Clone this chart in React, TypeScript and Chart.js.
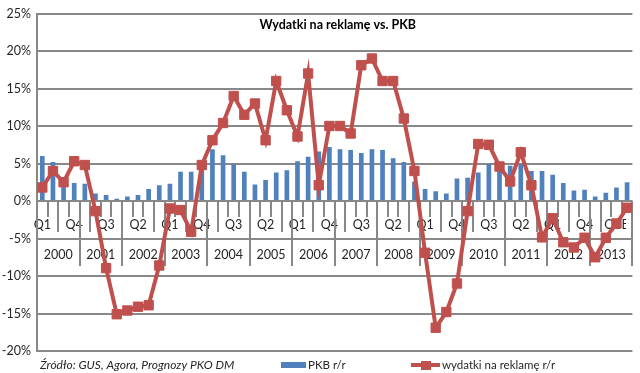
import React, { useEffect, useRef } from 'react';
import { Chart, registerables } from 'chart.js';

Chart.register(...registerables);

const years = ['2000', '2001', '2002', '2003', '2004', '2005', '2006', '2007', '2008', '2009', '2010', '2011', '2012', '2013'];
const quarterNames = ['Q1', 'Q2', 'Q3', 'Q4'];
const lastYearQuarterNames = ['Q1', 'Q2', 'Q3E', 'Q4E'];
const categories = years.flatMap((_, i) => (i === years.length - 1 ? lastYearQuarterNames : quarterNames));

const pkbRR = [
  6.0, 5.2, 3.2, 2.4,
  2.3, 1.0, 0.8, 0.3,
  0.6, 0.8, 1.6, 2.1,
  2.3, 3.9, 3.9, 4.7,
  6.9, 6.1, 4.9, 3.9,
  2.2, 2.8, 3.8, 4.1,
  5.3, 5.9, 6.6, 7.2,
  6.9, 6.8, 6.4, 6.9,
  6.8, 5.7, 5.2, 2.6,
  1.6, 1.3, 1.0, 3.0,
  3.1, 3.8, 4.9, 4.6,
  4.7, 4.9, 4.0, 4.0,
  3.5, 2.4, 1.4, 1.5,
  0.6, 1.1, 1.8, 2.5,
];

const adsRR = [
  1.8, 4.0, 2.5, 5.3,
  4.8, -1.35, -8.95, -15.1,
  -14.6, -14.1, -13.9, -8.6,
  -1.0, -1.2, -4.1, 4.8,
  8.1, 10.4, 14.0, 11.5,
  13.0, 8.1, 16.0, 12.1,
  8.6, 17.0, 2.1, 10.0,
  10.0, 9.0, 18.1, 19.0,
  16.0, 16.0, 11.0, 4.0,
  -6.9, -16.9, -14.8, -11.0,
  -1.35, 7.6, 7.5, 4.6,
  2.6, 6.5, 2.1, -4.85,
  -2.3, -5.5, -6.2, -4.9,
  -7.5, -4.9, -3.0, -0.9,
];

const yMin = -20;
const yMax = 25;
const yStep = 5;

const titleText = 'Wydatki na reklamę vs. PKB';
const sourceText = 'Źródło: GUS, Agora, Prognozy PKO DM';
const barLabel = 'PKB r/r';
const lineLabel = 'wydatki na reklamę r/r';

const BLUE = '#4F81BD';
const RED = '#C0504D';
const GRID = '#888888';
const TEXT = '#262626';
const FONT = 'Lato, "Open Sans", sans-serif';

const decorPlugin = {
  id: 'decor',
  beforeDatasetsDraw(chart: any) {
    const xs = chart.scales.x;
    const ys = chart.scales.y;
    const ctx = chart.ctx;
    const y0 = ys.getPixelForValue(0);
    const half = (xs.getPixelForValue(1) - xs.getPixelForValue(0)) / 2;
    ctx.save();
    ctx.strokeStyle = GRID;
    ctx.lineWidth = 2;
    ctx.fillStyle = TEXT;
    ctx.font = `12.5px ${FONT}`;
    ctx.textAlign = 'center';
    ctx.textBaseline = 'middle';
    years.forEach((yr, k) => {
      const left = xs.getPixelForValue(k * 4) - half;
      const right = xs.getPixelForValue(k * 4 + 3) + half;
      const rx = Math.round(right);
      ctx.beginPath();
      ctx.moveTo(rx, y0);
      ctx.lineTo(rx, y0 + 65);
      ctx.stroke();
      ctx.fillText(yr, (left + right) / 2, y0 + 54);
    });
    ctx.restore();
  },
  afterDraw(chart: any) {
    const ctx = chart.ctx;
    const area = chart.chartArea;
    ctx.save();
    ctx.fillStyle = '#000';
    ctx.font = `bold 12.5px ${FONT}`;
    ctx.textAlign = 'center';
    ctx.textBaseline = 'middle';
    ctx.fillText(titleText, (area.left + area.right) / 2 + 3, 25);
    const ly = 365;
    ctx.fillStyle = TEXT;
    ctx.font = `italic 12px ${FONT}`;
    ctx.textAlign = 'left';
    ctx.fillText(sourceText, 40, ly);
    ctx.fillStyle = BLUE;
    ctx.fillRect(281, ly - 3, 25, 6);
    ctx.fillStyle = TEXT;
    ctx.font = `11.5px ${FONT}`;
    ctx.fillText(barLabel, 308, ly);
    ctx.strokeStyle = RED;
    ctx.lineWidth = 4;
    ctx.beginPath();
    ctx.moveTo(411, ly);
    ctx.lineTo(440, ly);
    ctx.stroke();
    ctx.fillStyle = RED;
    ctx.fillRect(421, ly - 4, 10, 9);
    ctx.fillStyle = TEXT;
    ctx.fillText(lineLabel, 442, ly);
    ctx.restore();
  },
};

export default function App() {
  const ref = useRef<HTMLCanvasElement | null>(null);
  useEffect(() => {
    document.body.style.margin = '0';
    const canvas = ref.current;
    if (!canvas) return;
    const chart = new Chart(canvas, {
      type: 'bar',
      data: {
        labels: categories,
        datasets: [
          {
            type: 'line',
            label: lineLabel,
            data: adsRR,
            borderColor: RED,
            backgroundColor: RED,
            borderWidth: 4,
            pointStyle: 'rect',
            pointRadius: 6.6,
            pointBackgroundColor: RED,
            pointBorderColor: RED,
            pointBorderWidth: 1,
            tension: 0,
            order: 0,
          } as any,
          {
            type: 'bar',
            label: barLabel,
            data: pkbRR,
            backgroundColor: BLUE,
            borderWidth: 0,
            barPercentage: 0.44,
            categoryPercentage: 1,
            order: 1,
          },
        ],
      },
      options: {
        responsive: false,
        animation: false,
        layout: { padding: { top: 9, bottom: 22, right: 2, left: 0 } },
        plugins: {
          legend: { display: false },
          title: { display: false },
          tooltip: { enabled: false },
        },
        scales: {
          x: {
            type: 'category',
            position: { y: 0 } as any,
            offset: true,
            border: { display: false },
            grid: {
              display: true,
              drawOnChartArea: false,
              drawTicks: true,
              tickLength: 31,
              offset: true,
              color: GRID,
              lineWidth: 2,
            },
            ticks: {
              autoSkip: false,
              maxRotation: 0,
              minRotation: 0,
              padding: -15,
              color: TEXT,
              font: { family: FONT, size: 12.5 },
              showLabelBackdrop: true,
              backdropColor: '#ffffff',
              backdropPadding: { top: 0, bottom: 0, left: 1, right: 1 },
              callback: (_v: any, i: number) => (i % 3 === 0 ? categories[i] : ''),
            } as any,
          },
          y: {
            type: 'linear',
            min: yMin,
            max: yMax,
            afterFit: (s: any) => {
              s.width = 37;
            },
            border: { display: true, color: GRID, width: 2 },
            grid: { color: GRID, lineWidth: 2, drawTicks: false },
            ticks: {
              stepSize: yStep,
              padding: 6,
              color: TEXT,
              font: { family: FONT, size: 12.5 },
              callback: (v: any) => `${v}%`,
            },
          },
        },
      },
      plugins: [decorPlugin],
    });
    return () => chart.destroy();
  }, []);
  return (
    <div style={{ width: 640, height: 373 }}>
      <canvas ref={ref} width={640} height={373} style={{ display: 'block' }} />
    </div>
  );
}
